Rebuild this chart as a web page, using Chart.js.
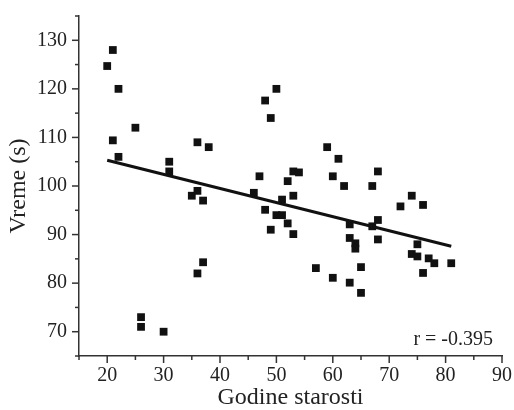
<!DOCTYPE html>
<html>
<head>
<meta charset="utf-8">
<script src="https://cdn.jsdelivr.net/npm/chart.js@4"></script>
<style>
    html, body {
        margin: 0;
        padding: 0;
        background: #ffffff;
    }
    #wrap {
        width: 514px;
        height: 410px;
    }
</style>
</head>
<body>
<div id="wrap"><canvas id="scatterChart" width="514" height="410"></canvas></div>
<script>

// ==========================
// DATA
// ==========================

const ages = [
    20, 21, 22, 25, 21, 22, 31, 31, 36, 38,
    26, 26, 30, 36, 37, 35, 36, 37, 46, 47,
    50, 48, 49, 59, 61, 53, 54, 52, 60, 62,
    68, 67, 51, 53, 48, 50, 51, 52, 49, 53,
    63, 63, 64, 64, 68, 67, 68, 74, 72, 76,
    75, 74, 75, 77, 78, 81, 76, 57, 60, 63,
    65, 65
];

const times = [
    124.7, 128, 120, 112, 109.4, 106, 105, 103, 109, 108,
    73, 71, 70, 82, 84.3, 98, 99, 97, 98.6, 102,
    120, 117.6, 114, 108, 105.6, 103, 102.8, 101, 102, 100,
    103, 100, 97.2, 98, 95.1, 94, 94, 92.3, 91, 90.1,
    92.1, 89.3, 88.2, 87.1, 93, 91.7, 89, 98, 95.8, 96.1,
    88, 86, 85.5, 85.1, 84.1, 84.1, 82.1, 83.1, 81.1, 80.1,
    83.3, 78
];

// regression line end points
const fitAges = [20, 81];
const fitTimes = [105.3, 87.6];

const xTicks = [20, 30, 40, 50, 60, 70, 80, 90];
const yTicks = [70, 80, 90, 100, 110, 120, 130];

const xMinorTicks = [15, 25, 35, 45, 55, 65, 75, 85];
const yMinorTicks = [65, 75, 85, 95, 105, 115, 125, 135];

const corrLabel = "r = -0.395";

// ==========================
// PLUGIN: ticks + r label
// ==========================

const axisTicks = {
    id: "axisTicks",
    afterDraw(chart) {

        const ctx = chart.ctx;
        const xs = chart.scales.x;
        const ys = chart.scales.y;
        const area = chart.chartArea;

        ctx.save();
        ctx.strokeStyle = "#333333";
        ctx.lineWidth = 1.5;

        const drawX = (vals, len) => {
            vals.forEach(v => {
                const px = xs.getPixelForValue(v);
                ctx.beginPath();
                ctx.moveTo(px, area.bottom);
                ctx.lineTo(px, area.bottom + len);
                ctx.stroke();
            });
        };

        const drawY = (vals, len) => {
            vals.forEach(v => {
                const py = ys.getPixelForValue(v);
                ctx.beginPath();
                ctx.moveTo(area.left, py);
                ctx.lineTo(area.left - len, py);
                ctx.stroke();
            });
        };

        drawX(xTicks, 7);
        drawX(xMinorTicks, 4);
        drawY(yTicks, 7);
        drawY(yMinorTicks, 4);

        // correlation text
        ctx.fillStyle = "#222222";
        ctx.font = "20px 'Liberation Serif'";
        ctx.textAlign = "right";
        ctx.textBaseline = "alphabetic";
        ctx.fillText(
            corrLabel,
            area.right - 9,
            area.bottom - 11
        );

        ctx.restore();
    }
};

// ==========================
// SCATTER CHART
// ==========================

const points =
ages.map((a, i) => ({ x: a, y: times[i] }));

const fitPoints =
fitAges.map((a, i) => ({ x: a, y: fitTimes[i] }));

new Chart(
    document.getElementById("scatterChart"),
    {
        type: "scatter",
        data: {
            datasets: [
                {
                    type: "line",
                    data: fitPoints,
                    borderColor: "#111111",
                    borderWidth: 3,
                    pointRadius: 0,
                    fill: false
                },
                {
                    data: points,
                    pointStyle: "rect",
                    pointRadius: 5.5,
                    backgroundColor: "#111111",
                    borderColor: "#111111",
                    borderWidth: 0
                }
            ]
        },
        options: {
            responsive: false,
            animation: false,
            layout: {
                padding: { top: 16, right: 12, left: 0, bottom: 0 }
            },
            plugins: {
                legend: { display: false },
                tooltip: { enabled: false }
            },
            scales: {
                x: {
                    type: "linear",
                    min: 15,
                    max: 90,
                    afterBuildTicks: s => {
                        s.ticks = xTicks.map(v => ({ value: v }));
                    },
                    afterFit: s => {
                        s.height = 54;
                        s.paddingLeft = 0;
                        s.paddingRight = 0;
                    },
                    grid: {
                        display: true,
                        drawOnChartArea: false,
                        drawTicks: false
                    },
                    border: {
                        display: true,
                        color: "#333333",
                        width: 1.5
                    },
                    ticks: {
                        padding: 8,
                        color: "#222222",
                        font: { family: "'Liberation Serif'", size: 20 }
                    },
                    title: {
                        display: true,
                        text: "Godine starosti",
                        color: "#222222",
                        padding: { top: 0, bottom: -2 },
                        font: { family: "'Liberation Serif'", size: 24 }
                    }
                },
                y: {
                    type: "linear",
                    min: 65,
                    max: 135,
                    afterBuildTicks: s => {
                        s.ticks = yTicks.map(v => ({ value: v }));
                    },
                    afterFit: s => {
                        s.width = 79;
                        s.paddingTop = 0;
                        s.paddingBottom = 0;
                    },
                    grid: {
                        display: true,
                        drawOnChartArea: false,
                        drawTicks: false
                    },
                    border: {
                        display: true,
                        color: "#333333",
                        width: 1.5
                    },
                    ticks: {
                        padding: 12,
                        color: "#222222",
                        font: { family: "'Liberation Serif'", size: 20 }
                    },
                    title: {
                        display: true,
                        text: "Vreme (s)",
                        color: "#222222",
                        padding: { top: 4, bottom: 0 },
                        font: { family: "'Liberation Serif'", size: 24 }
                    }
                }
            }
        },
        plugins: [axisTicks]
    }
);
</script>
</body>
</html>
